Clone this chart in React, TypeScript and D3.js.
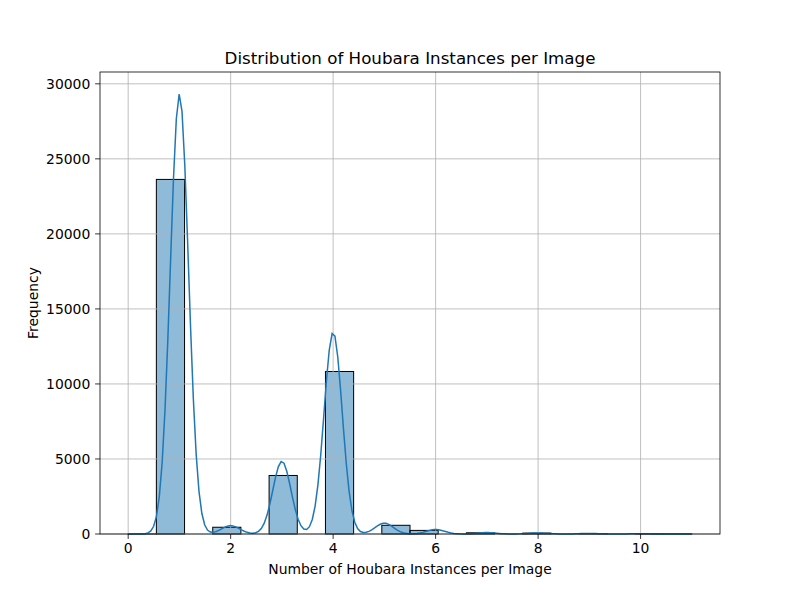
import React from 'react';
import * as d3 from 'd3';

// Houbara instances per image and how many images have that count
const instanceValues = [0, 1, 2, 3, 4, 5, 6, 7, 8, 9, 10, 11];
const imageCounts = [2, 23630, 450, 3900, 10830, 580, 240, 80, 60, 30, 15, 5];
const xTicks = [0, 2, 4, 6, 8, 10];
const yTicks = [0, 5000, 10000, 15000, 20000, 25000, 30000];
const binCount = 20;

const W = 800;
const H = 600;
const margin = { top: 72, right: 80, bottom: 66, left: 100 };

const App = () => {
  const lo = d3.min(instanceValues)!;
  const hi = d3.max(instanceValues)!;
  const binWidth = (hi - lo) / binCount;

  // Histogram bins
  const bins = d3.range(binCount).map((i) => {
    const x0 = lo + i * binWidth;
    const x1 = lo + (i + 1) * binWidth;
    let count = 0;
    instanceValues.forEach((v, j) => {
      if ((v >= x0 && v < x1) || (i === binCount - 1 && v === x1)) count += imageCounts[j];
    });
    return { x0, x1, count };
  });

  // Gaussian KDE, scott bandwidth, scaled to counts
  const n = d3.sum(imageCounts);
  const mean = d3.sum(instanceValues, (v, j) => v * imageCounts[j]) / n;
  const variance = d3.sum(instanceValues, (v, j) => imageCounts[j] * (v - mean) ** 2) / (n - 1);
  const bw = Math.sqrt(variance) * Math.pow(n, -0.2);
  const grid = d3.range(200).map((i) => lo + (i * (hi - lo)) / 199);
  const kde = grid.map((x) => {
    const dens = d3.sum(instanceValues, (v, j) => imageCounts[j] * Math.exp(-0.5 * ((x - v) / bw) ** 2)) /
      (n * bw * Math.sqrt(2 * Math.PI));
    return [x, dens * n * binWidth] as [number, number];
  });

  const yMax = Math.max(d3.max(kde, (d) => d[1])!, d3.max(bins, (b) => b.count)!) * 1.05;
  const pad = (hi - lo) * 0.05;

  const x = d3.scaleLinear().domain([lo - pad, hi + pad]).range([margin.left, W - margin.right]);
  const y = d3.scaleLinear().domain([0, yMax]).range([H - margin.bottom, margin.top]);

  const line = d3.line<[number, number]>()
    .x((d) => x(d[0]))
    .y((d) => y(d[1]));

  const font = 'DejaVu Sans, sans-serif';
  const x0 = margin.left;
  const x1 = W - margin.right;
  const y0 = H - margin.bottom;
  const y1 = margin.top;

  return (
    <svg width={W} height={H} style={{ display: 'block', margin: -8 }} fontFamily={font}>
      <rect width={W} height={H} fill="#fff" />
      {/* bars */}
      {bins.filter((b) => b.count > 0).map((b, i) => (
        <rect key={i} x={x(b.x0)} y={y(b.count)} width={x(b.x1) - x(b.x0)} height={y(0) - y(b.count)}
          fill="rgba(31,119,180,0.5)" stroke="#000" strokeWidth={1} />
      ))}
      {/* grid */}
      {xTicks.map((t) => (
        <line key={'gx' + t} x1={x(t)} x2={x(t)} y1={y0} y2={y1} stroke="#b0b0b0" strokeWidth={0.8} />
      ))}
      {yTicks.map((t) => (
        <line key={'gy' + t} x1={x0} x2={x1} y1={y(t)} y2={y(t)} stroke="#b0b0b0" strokeWidth={0.8} />
      ))}
      {/* kde */}
      <path d={line(kde)!} fill="none" stroke="#1f77b4" strokeWidth={1.5} />
      {/* spines */}
      <rect x={x0} y={y1} width={x1 - x0} height={y0 - y1} fill="none" stroke="#000" strokeWidth={0.8} />
      {/* x axis */}
      {xTicks.map((t) => (
        <g key={'xt' + t}>
          <line x1={x(t)} x2={x(t)} y1={y0} y2={y0 + 4.9} stroke="#000" strokeWidth={0.8} />
          <text x={x(t)} y={y0 + 19} textAnchor="middle" fontSize={13.9}>{t}</text>
        </g>
      ))}
      {yTicks.map((t) => (
        <g key={'yt' + t}>
          <line x1={x0 - 4.9} x2={x0} y1={y(t)} y2={y(t)} stroke="#000" strokeWidth={0.8} />
          <text x={x0 - 9.7} y={y(t)} dy="0.35em" textAnchor="end" fontSize={13.9}>{t}</text>
        </g>
      ))}
      <text x={(x0 + x1) / 2} y={574} textAnchor="middle" fontSize={13.9}>Number of Houbara Instances per Image</text>
      <text transform={`translate(38,${(y0 + y1) / 2}) rotate(-90)`} textAnchor="middle" fontSize={13.9}>Frequency</text>
      <text x={(x0 + x1) / 2} y={y1 - 8.3} textAnchor="middle" fontSize={16.7}>Distribution of Houbara Instances per Image</text>
    </svg>
  );
};

export default App;
